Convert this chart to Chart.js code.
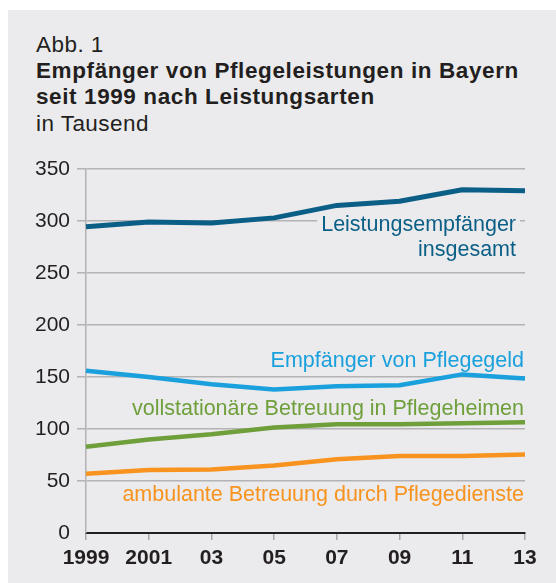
<!DOCTYPE html>
<html lang="de">
<head>
<meta charset="utf-8">
<script src="https://cdn.jsdelivr.net/npm/chart.js@4"></script>
<style>
  html, body { margin: 0; padding: 0; background: #fff; }
  body { width: 556px; height: 583px; position: relative; overflow: hidden;
         font-family: "Liberation Sans", Arial, Helvetica, sans-serif; color: #231f20; }
  .panel { position: absolute; left: 8px; top: 10px; right: 0; bottom: 0; background: #ebebed; }
  .head { position: absolute; left: 36px; top: 32px; font-size: 22.5px; line-height: 26.2px; letter-spacing: 0.45px; }
  .head b { font-weight: bold; letter-spacing: 0.6px; }
  canvas { position: absolute; left: 0; top: 0; }
</style>
</head>
<body>
<div class="panel"></div>
<div class="head">
  Abb. 1<br>
  <b>Empfänger von Pflegeleistungen in Bayern</b><br>
  <b>seit 1999 nach Leistungsarten</b><br>
  in Tausend
</div>
<canvas id="chart" width="556" height="583"></canvas>
<script>
// Empfänger von Pflegeleistungen in Bayern, in Tausend
const years = ['1999', '2001', '03', '05', '07', '09', '11', '13'];
const insgesamt = [294.5, 299, 298, 303, 315, 319, 330, 329];
const pflegegeld = [156, 150, 143, 138, 141, 142, 152.5, 148.5];
const vollstationaer = [83, 90, 95, 101.5, 104.5, 104.5, 105.5, 106.5];
const ambulant = [57, 60.5, 61, 65, 71, 74, 74, 75.5];

const yTicks = [0, 50, 100, 150, 200, 250, 300, 350];

// Beschriftungen direkt an den Linien (Textzeilen, Farbe, y-Wert der ersten Grundlinie)
const labelLines = [
  ['Leistungsempfänger', 'insgesamt'],
  ['Empfänger von Pflegegeld'],
  ['vollstationäre Betreuung in Pflegeheimen'],
  ['ambulante Betreuung durch Pflegedienste']
];
const labelColors = ['#0b5f86', '#1aa0dc', '#6f9f3b', '#f7931e'];
const labelValues = [290.4, 160, 113.5, 31];

const FONT = '"Liberation Sans", Arial, Helvetica, sans-serif';
const LABEL_FONT = '21.5px ' + FONT;
const PANEL = '#ebebed';

const lineLabels = {
  id: 'lineLabels',
  beforeDatasetsDraw(chart) {
    // Hintergrund hinter "Leistungsempfänger insgesamt", verdeckt die Gitterlinie
    const { ctx, chartArea, scales: { y } } = chart;
    const base = y.getPixelForValue(labelValues[0]);
    ctx.save();
    ctx.font = LABEL_FONT;
    const w = ctx.measureText(labelLines[0][0]).width;
    const right = chartArea.right - 9;
    ctx.fillStyle = PANEL;
    ctx.fillRect(right - w - 4, base - 19, w + 8, 50);
    ctx.restore();
  },
  afterDatasetsDraw(chart) {
    const { ctx, chartArea, scales: { y } } = chart;
    ctx.save();
    ctx.font = LABEL_FONT;
    ctx.textAlign = 'right';
    ctx.textBaseline = 'alphabetic';
    labelLines.forEach((lines, i) => {
      const base = y.getPixelForValue(labelValues[i]);
      const right = i === 0 ? chartArea.right - 9 : chartArea.right - 1;
      ctx.fillStyle = labelColors[i];
      lines.forEach((t, j) => ctx.fillText(t, right, base + j * 25));
    });
    ctx.restore();
  }
};

const lineStyle = (label, data, color, width) => ({
  label,
  data,
  borderColor: color,
  backgroundColor: color,
  borderWidth: width,
  pointRadius: 0,
  tension: 0,
  borderJoinStyle: 'round'
});

new Chart(document.getElementById('chart'), {
  type: 'line',
  data: {
    labels: years,
    datasets: [
      lineStyle('Leistungsempfänger insgesamt', insgesamt, labelColors[0], 5),
      lineStyle('Empfänger von Pflegegeld', pflegegeld, labelColors[1], 4.5),
      lineStyle('vollstationäre Betreuung in Pflegeheimen', vollstationaer, labelColors[2], 4.5),
      lineStyle('ambulante Betreuung durch Pflegedienste', ambulant, labelColors[3], 4.5)
    ]
  },
  options: {
    responsive: false,
    animation: false,
    layout: { padding: { left: 0, top: 169, right: 31, bottom: 0 } },
    plugins: {
      legend: { display: false },
      tooltip: { enabled: false }
    },
    scales: {
      x: {
        offset: false,
        afterFit: s => { s.height = 50; },
        grid: { drawOnChartArea: false, drawTicks: true, tickLength: 7, color: '#a7a7a9', lineWidth: 1.5 },
        border: { display: true, color: '#231f20', width: 2 },
        ticks: { font: { family: FONT, size: 21, weight: 'bold' }, color: '#231f20', padding: 6, maxRotation: 0, autoSkip: false }
      },
      y: {
        min: 0,
        max: 350,
        afterFit: s => { s.width = 86; },
        afterBuildTicks: s => { s.ticks = yTicks.map(v => ({ value: v })); },
        grid: {
          color: c => c.tick && c.tick.value === 0 ? 'rgba(0,0,0,0)' : '#b3b3b5',
          lineWidth: 1.5,
          tickLength: 9
        },
        border: { display: true, color: '#b3b3b5', width: 1.5 },
        ticks: { font: { family: FONT, size: 21 }, color: '#231f20', padding: 7 }
      }
    }
  },
  plugins: [lineLabels]
});
</script>
</body>
</html>
